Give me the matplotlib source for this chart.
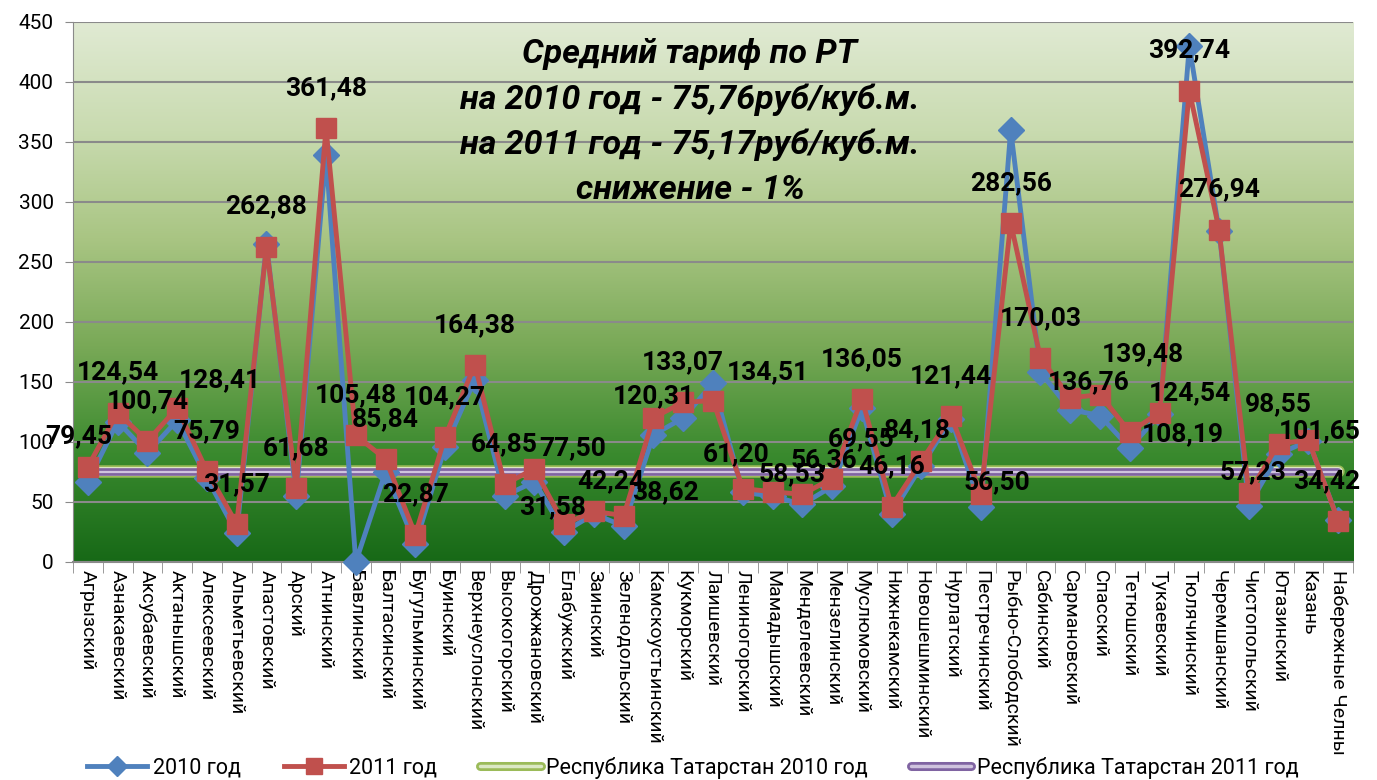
import numpy as np
import matplotlib
matplotlib.use("Agg")
import matplotlib.pyplot as plt
from matplotlib.colors import LinearSegmentedColormap
from matplotlib.lines import Line2D
import matplotlib.patheffects as pe

# ── Data ──────────────────────────────────────────────────────────────────────

districts = [
    "Агрызский", "Азнакаевский", "Аксубаевский", "Актанышский", "Алексеевский",
    "Альметьевский", "Апастовский", "Арский", "Атнинский", "Бавлинский",
    "Балтасинский", "Бугульминский", "Буинский", "Верхнеуслонский", "Высокогорский",
    "Дрожжановский", "Елабужский", "Заинский", "Зеленодольский", "Камскоустьинский",
    "Кукморский", "Лаишевский", "Лениногорский", "Мамадышский", "Менделеевский",
    "Мензелинский", "Муслюмовский", "Нижнекамский", "Новошешминский", "Нурлатский",
    "Пестречинский", "Рыбно-Слободский", "Сабинский", "Сармановский", "Спасский",
    "Тетюшский", "Тукаевский", "Тюлячинский", "Черемшанский", "Чистопольский",
    "Ютазинский", "Казань", "Набережные Челны",
]

tariff_2011 = [
    79.45, 124.54, 100.74, 128.41, 75.79, 31.57, 262.88, 61.68, 361.48, 105.48,
    85.84, 22.87, 104.27, 164.38, 64.85, 77.50, 31.58, 42.24, 38.62, 120.31,
    133.07, 134.51, 61.20, 58.53, 56.36, 69.55, 136.05, 46.16, 84.18, 121.44,
    56.50, 282.56, 170.03, 136.76, 139.48, 108.19, 124.54, 392.74, 276.94, 57.23,
    98.55, 101.65, 34.42,
]

# 2010 values have no labels in the source, read off the markers
tariff_2010 = [
    67, 117, 91, 118, 70, 24, 265, 55, 339, 0,
    75, 15, 96, 152, 55, 67, 25, 40, 30, 106,
    120, 149, 58, 55, 48, 63, 128, 40, 80, 119,
    46, 360, 158, 127, 122, 95, 123, 430, 276, 47,
    90, 101, 35,
]

rt_2010 = 75.76
rt_2011 = 75.17

title_lines = [
    "Средний тариф по РТ",
    "на 2010 год - 75,76руб/куб.м.",
    "на 2011 год - 75,17руб/куб.м.",
    "снижение - 1%",
]

# ── Style ─────────────────────────────────────────────────────────────────────

BLUE = "#4f81bd"
RED = "#c0504d"
GREEN = "#9bbb59"
GREEN_IN = "#dbe8c4"
PURPLE = "#8064a2"
PURPLE_IN = "#cfc3de"
GRID = "#8a8a8a"

# default label offset (pixels above the marker) and hand-moved labels
LABEL_UP = 40
label_nudges = {
    0: (-9, 30), 3: (43, 28), 15: (38, 21), 16: (-12, 17), 17: (17, 30),
    18: (42, 23), 19: (0, 21), 21: (55, 28), 22: (-7, 34), 23: (19, 18),
    24: (22, 34), 25: (29, 39), 28: (-4, 31), 30: (16, 12), 33: (18, 16),
    34: (43, 40), 35: (53, -2), 36: (30, 19), 39: (4, 21), 41: (11, 9),
    42: (-11, 39),
}

plt.rcParams["font.family"] = ["Roboto", "DejaVu Sans"]

fig = plt.figure(figsize=(13.77, 7.8), dpi=100, facecolor="white")
ax = fig.add_axes([0.053, 0.2795, 0.9296, 0.6923])

x = np.arange(len(districts))
ax.set_xlim(-0.5, len(districts) - 0.5)
ax.set_ylim(0, 450)

# gradient background of the plot area
bg = LinearSegmentedColormap.from_list(
    "bg", ["#176917", "#3a8a2e", "#79a957", "#a9c583", "#c9dbb0", "#e0eAd3"])
grad = np.linspace(0, 1, 256).reshape(-1, 1)
ax.imshow(grad, cmap=bg, origin="lower", aspect="auto",
          extent=(-0.5, len(districts) - 0.5, 0, 450), zorder=0)

ax.set_yticks(np.arange(0, 451, 50))
ax.grid(axis="y", color=GRID, linewidth=1.5, zorder=1)
ax.tick_params(axis="y", labelsize=15, length=6, color=GRID, pad=8)

ax.set_xticks(x)
ax.set_xticklabels(districts, rotation=-90, fontsize=14, va="top", ha="center")
ax.tick_params(axis="x", length=0, pad=6)
ax.set_xticks(np.arange(-0.5, len(districts), 1), minor=True)
ax.tick_params(axis="x", which="minor", length=8, color=GRID)

for side in ["top", "right"]:
    ax.spines[side].set_visible(False)
ax.spines["left"].set_color(GRID)
ax.spines["bottom"].set_color(GRID)
ax.spines["bottom"].set_linewidth(1.5)

# RT average lines (double style)
ends = [0, len(districts) - 1]
ax.plot(ends, [rt_2010, rt_2010], color=GREEN, lw=9,
        solid_capstyle="round", zorder=2)
ax.plot(ends, [rt_2010, rt_2010], color=GREEN_IN, lw=6.5,
        solid_capstyle="round", zorder=2)
ax.plot(ends, [rt_2011, rt_2011], color=PURPLE, lw=5.5,
        solid_capstyle="round", zorder=2)
ax.plot(ends, [rt_2011, rt_2011], color=PURPLE_IN, lw=1.6, zorder=2)

ax.plot(x, tariff_2010, color=BLUE, lw=3.5, marker="D", markersize=13,
        zorder=3, clip_on=False)
ax.plot(x, tariff_2011, color=RED, lw=3.5, marker="s", markersize=15,
        zorder=4, clip_on=False)

for i, (xi, v) in enumerate(zip(x, tariff_2011)):
    dx, dy = label_nudges.get(i, (0, LABEL_UP))
    ax.annotate(f"{v:.2f}".replace(".", ","), (xi, v), xytext=(dx, dy),
                textcoords="offset pixels", ha="center", va="center",
                fontsize=19, fontweight="bold", color="black", zorder=5,
                annotation_clip=False)

for i, line in enumerate(title_lines):
    ax.text(0.482, 0.94 - i * 0.0836, line, transform=ax.transAxes,
            ha="center", va="center", fontsize=24.5, fontweight="bold",
            fontstyle="italic", color="black", zorder=6)

# legend
handles = [
    Line2D([], [], color=BLUE, lw=3.5, marker="D", markersize=10),
    Line2D([], [], color=RED, lw=3.5, marker="s", markersize=11),
    Line2D([], [], color=GREEN_IN, lw=2.5, solid_capstyle="round",
           path_effects=[pe.Stroke(linewidth=6.5, foreground=GREEN), pe.Normal()]),
    Line2D([], [], color=PURPLE_IN, lw=2.5, solid_capstyle="round",
           path_effects=[pe.Stroke(linewidth=6.5, foreground=PURPLE), pe.Normal()]),
]
labels = ["2010 год", "2011 год", "Республика Татарстан 2010 год",
          "Республика Татарстан 2011 год"]
fig.legend(handles, labels, loc="center", bbox_to_anchor=(0.503, 0.016),
           ncol=4, frameon=False, fontsize=15.5, handlelength=2.8,
           handletextpad=0.25, columnspacing=2.0)

fig.savefig("out.png", dpi=100, facecolor="white")
